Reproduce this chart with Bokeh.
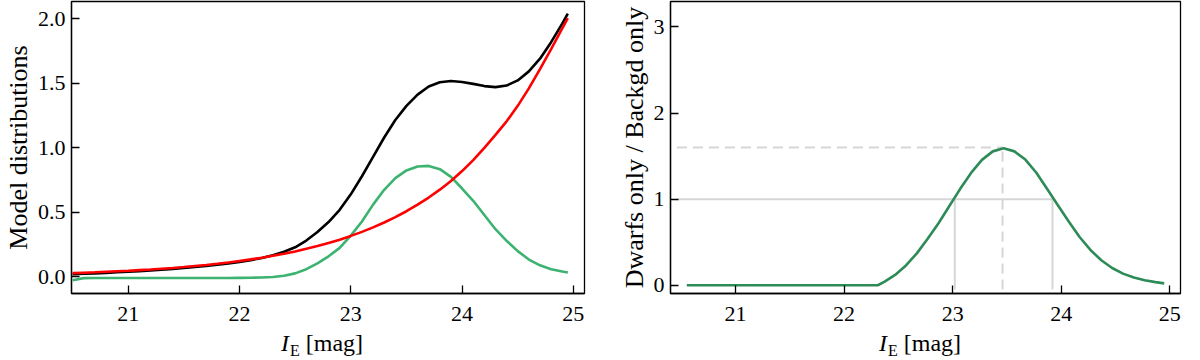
from bokeh.plotting import figure
from bokeh.models import Range1d, FixedTicker, PrintfTickFormatter, Div
from bokeh.layouts import row, column
from bokeh.embed import file_html
from bokeh.resources import INLINE

# ---------------- data ----------------
mag = [20.5, 20.6, 20.7, 20.8, 20.9, 21.0, 21.1, 21.2, 21.3, 21.4,
       21.5, 21.6, 21.7, 21.8, 21.9, 22.0, 22.1, 22.2, 22.3, 22.4,
       22.5, 22.6, 22.7, 22.8, 22.9, 23.0, 23.1, 23.2, 23.3, 23.4,
       23.5, 23.6, 23.7, 23.8, 23.9, 24.0, 24.1, 24.2, 24.3, 24.4,
       24.5, 24.6, 24.7, 24.8, 24.9, 24.95]

background = [0.030, 0.033, 0.036, 0.040, 0.044, 0.048, 0.053, 0.058, 0.064, 0.070,
              0.077, 0.085, 0.093, 0.102, 0.112, 0.124, 0.136, 0.149, 0.164, 0.180,
              0.198, 0.218, 0.239, 0.263, 0.289, 0.318, 0.349, 0.384, 0.422, 0.464,
              0.509, 0.560, 0.615, 0.676, 0.743, 0.820, 0.905, 1.000, 1.100, 1.205,
              1.325, 1.460, 1.610, 1.765, 1.925, 2.005]

dwarfs = [-0.025, -0.009, -0.008, -0.008, -0.008, -0.008, -0.008, -0.008, -0.008, -0.008,
          -0.008, -0.008, -0.008, -0.008, -0.008, -0.007, -0.006, -0.004, 0.000, 0.010,
          0.028, 0.060, 0.105, 0.160, 0.225, 0.320, 0.430, 0.560, 0.675, 0.765,
          0.825, 0.855, 0.860, 0.835, 0.775, 0.685, 0.590, 0.480, 0.370, 0.280,
          0.200, 0.135, 0.090, 0.060, 0.042, 0.035]

total = [0.022, 0.025, 0.028, 0.032, 0.036, 0.040, 0.045, 0.050, 0.056, 0.062,
         0.069, 0.077, 0.085, 0.094, 0.104, 0.117, 0.130, 0.147, 0.168, 0.195,
         0.230, 0.282, 0.348, 0.425, 0.520, 0.640, 0.780, 0.930, 1.080, 1.215,
         1.325, 1.412, 1.475, 1.508, 1.518, 1.510, 1.495, 1.478, 1.470, 1.482,
         1.522, 1.592, 1.690, 1.818, 1.962, 2.040]

ratio_mag = [20.55, 22.31, 22.37, 22.47, 22.57, 22.67, 22.77, 22.87, 22.97, 23.07,
             23.17, 23.27, 23.37, 23.47, 23.57, 23.67, 23.77, 23.87, 23.97, 24.07,
             24.17, 24.27, 24.37, 24.47, 24.57, 24.67, 24.77, 24.87, 24.95]
ratio = [0.0, 0.0, 0.04, 0.12, 0.23, 0.37, 0.54, 0.72, 0.92, 1.12,
         1.305, 1.456, 1.555, 1.59, 1.555, 1.46, 1.31, 1.12, 0.93, 0.74,
         0.56, 0.41, 0.29, 0.20, 0.135, 0.09, 0.058, 0.036, 0.022]

# guide lines of the right panel
guide_start = 20.46
guide_floor = -0.05
unity_level = 1.0
cross_lo = 23.02
cross_hi = 23.92
peak_level = 1.6
peak_mag = 23.46

x_ticks = [21, 22, 23, 24, 25]
left_y_ticks = [0.0, 0.5, 1.0, 1.5, 2.0]
right_y_ticks = [0, 1, 2, 3]

left_ylabel = "Model distributions"
right_ylabel = "Dwarfs only / Backgd only"

# ---------------- styling ----------------
FONT = "Liberation Serif"
TICK_SIZE = "22px"
LABEL_SIZE = "26px"
C_TOTAL = "black"
C_BACK = "#ff0000"
C_DWARF = "#3cb371"
C_RATIO = "#2e8b57"
C_GUIDE = "#d6d6d6"
LW = 2.6
FIG_H = 331
LABEL_H = 25


def make_fig(width, xr, yr, yticks, fmt, ylabel, mbl, mbr):
    p = figure(width=width, height=FIG_H, x_range=Range1d(*xr), y_range=Range1d(*yr),
               output_backend="svg", toolbar_location=None, tools="")
    p.min_border_left = mbl
    p.min_border_right = mbr
    p.min_border_top = 1
    p.min_border_bottom = 38
    p.xgrid.visible = False
    p.ygrid.visible = False
    p.background_fill_color = "white"
    p.border_fill_color = "white"
    p.outline_line_color = "black"
    p.outline_line_width = 1.3
    p.outline_line_alpha = 1.0
    p.xaxis.ticker = FixedTicker(ticks=x_ticks)
    p.yaxis.ticker = FixedTicker(ticks=yticks)
    p.yaxis.formatter = PrintfTickFormatter(format=fmt)
    for ax in (p.xaxis[0], p.yaxis[0]):
        ax.major_tick_in = 8
        ax.major_tick_out = 0
        ax.minor_tick_in = 0
        ax.minor_tick_out = 0
        ax.axis_line_color = "black"
        ax.axis_line_width = 1.3
        ax.major_tick_line_color = "black"
        ax.major_tick_line_width = 1.3
        ax.major_label_text_font = FONT
        ax.major_label_text_font_size = TICK_SIZE
        ax.major_label_text_color = "black"
    p.xaxis.major_label_standoff = 13
    p.yaxis.major_label_standoff = 6
    p.yaxis.axis_label = ylabel
    p.yaxis.axis_label_text_font = FONT
    p.yaxis.axis_label_text_font_size = LABEL_SIZE
    p.yaxis.axis_label_text_font_style = "normal"
    p.yaxis.axis_label_text_color = "black"
    p.yaxis.axis_label_standoff = 2
    return p


def xlabel(width, frame_left, frame_w):
    pad = int(frame_left + frame_w / 2 - 46)
    html = ('<div style="padding-left:%dpx;white-space:nowrap;">'
            '<span style="font-style:italic;">I</span>'
            '<span style="font-size:16px;position:relative;top:5px;margin-left:1px;">E</span>'
            '<span>&nbsp;[mag]</span></div>') % pad
    return Div(text=html, width=width, height=LABEL_H,
               styles={"font-family": FONT, "font-size": "24px", "line-height": "24px",
                       "color": "black", "margin": "0px"})


# ---------------- left panel ----------------
W1, L1, R1 = 588, 70, 4
p1 = make_fig(W1, (20.49, 25.1), (-0.128, 2.133), left_y_ticks, "%.1f", left_ylabel, L1, R1)
p1.line(mag, total, line_color=C_TOTAL, line_width=LW)
p1.line(mag, dwarfs, line_color=C_DWARF, line_width=LW)
p1.line(mag, background, line_color=C_BACK, line_width=LW)

# ---------------- right panel ----------------
W2, L2, R2 = 1184 - W1, 82, 4
p2 = make_fig(W2, (20.4, 25.1), (-0.096, 3.296), right_y_ticks, "%d", right_ylabel, L2, R2)
p2.line([guide_start, cross_hi], [unity_level, unity_level], line_color=C_GUIDE, line_width=2)
p2.line([cross_lo, cross_lo], [guide_floor, unity_level], line_color=C_GUIDE, line_width=2)
p2.line([cross_hi, cross_hi], [guide_floor, unity_level], line_color=C_GUIDE, line_width=2)
p2.line([guide_start, peak_mag], [peak_level, peak_level], line_color=C_GUIDE, line_width=2,
        line_dash="10 6")
p2.line([peak_mag, peak_mag], [guide_floor, peak_level], line_color=C_GUIDE, line_width=2,
        line_dash="10 6")
p2.line(ratio_mag, ratio, line_color=C_RATIO, line_width=LW)

col1 = column(p1, xlabel(W1, L1, W1 - L1 - R1), spacing=0)
col2 = column(p2, xlabel(W2, L2, W2 - L2 - R2), spacing=0)
layout = row(col1, col2, spacing=0)
open("out.html", "w").write(file_html(layout, INLINE))
